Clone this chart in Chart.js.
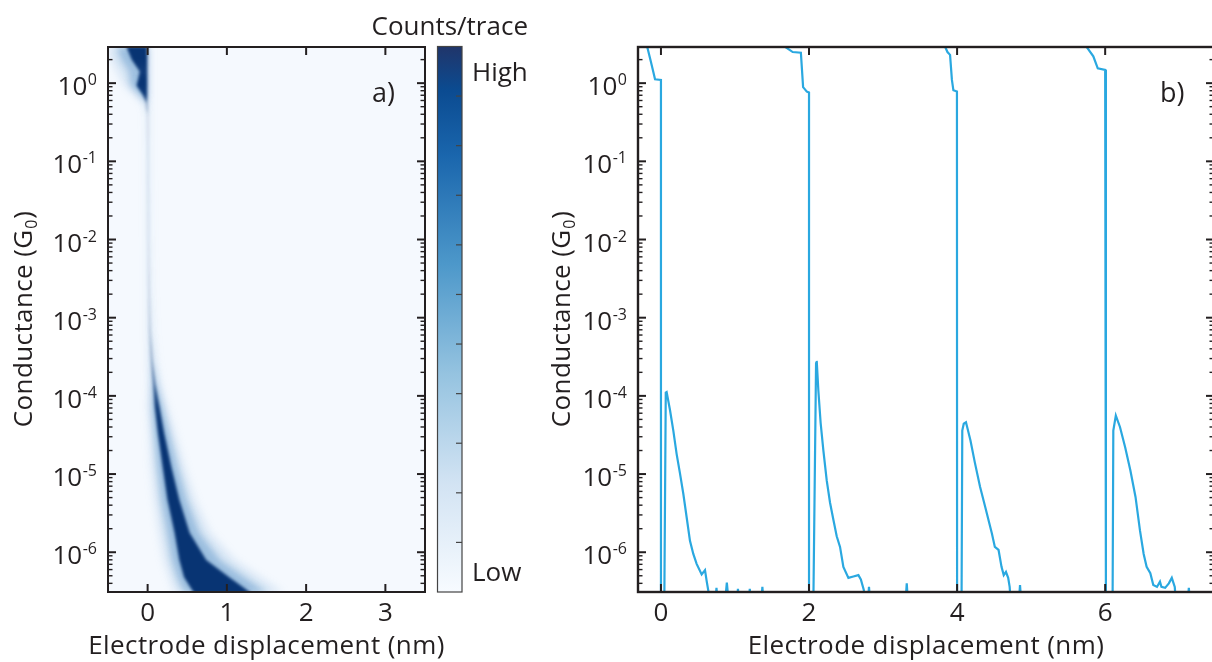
<!DOCTYPE html>
<html>
<head>
<meta charset="utf-8">
<script src="https://cdn.jsdelivr.net/npm/chart.js@4.4.0/dist/chart.umd.min.js"></script>
<style>
  html, body { margin: 0; padding: 0; background: #fff; overflow: hidden; }
  #wrap { position: relative; width: 1212px; height: 662px; overflow: hidden; }
  canvas { position: absolute; top: 0; }
</style>
</head>
<body>
<div id="wrap">
  <canvas id="histo" width="560" height="662" style="left:0"></canvas>
  <canvas id="traces" width="710" height="662" style="left:520px"></canvas>
</div>
<script>
// ---- panel a) : density of conductance vs displacement, read row by row ----
// each row: log10(G) level, outer halo edges, dark core edges (nm), core density 0..1
const bandLogG      = [0.47, 0.30, 0.15, 0.05, -0.03, -0.15, -0.25, -0.40, -1.00, -2.00, -2.70, -3.20, -3.55, -3.84, -4.14, -4.48, -4.91, -5.33, -5.75, -6.10, -6.32, -6.53];
const bandHaloLeft  = [-0.52, -0.46, -0.38, -0.33, -0.29, -0.16, -0.05, -0.03, -0.02, -0.015, -0.01, 0.00, 0.01, 0.02, 0.01, 0.03, 0.05, 0.09, 0.15, 0.21, 0.28, 0.35];
const bandCoreLeft  = [-0.27, -0.20, -0.10, -0.12, -0.14, -0.06, -0.02, -0.01, -0.005, 0.000, 0.005, 0.015, 0.040, 0.070, 0.090, 0.13, 0.19, 0.25, 0.34, 0.40, 0.46, 0.59];
const bandCoreRight = [-0.005, -0.005, -0.005, -0.005, -0.005, -0.005, -0.005, 0.012, 0.016, 0.022, 0.032, 0.045, 0.065, 0.095, 0.15, 0.21, 0.30, 0.40, 0.53, 0.74, 1.03, 1.32];
const bandHaloRight = [0.01, 0.01, 0.01, 0.01, 0.01, 0.01, 0.01, 0.03, 0.035, 0.045, 0.06, 0.08, 0.11, 0.16, 0.24, 0.34, 0.46, 0.59, 0.78, 1.09, 1.41, 1.72];
const bandLevel     = [1.0, 1.0, 0.95, 1.0, 1.0, 0.95, 0.6, 0.14, 0.12, 0.12, 0.14, 0.2, 0.38, 0.72, 0.95, 1.0, 1.0, 1.0, 1.0, 1.0, 1.0, 1.0];

// ---- panel b) : four single traces (G in G0, 2e-7 = below the plotted floor) ----
const trace1X = [-0.20, -0.185, -0.14, -0.11, -0.08, 0.00, 0.00, 0.045, 0.065, 0.077, 0.122, 0.167, 0.212, 0.257, 0.302, 0.347, 0.392, 0.437, 0.482, 0.55, 0.595, 0.617, 0.64, 0.66, 0.73, 0.75, 0.77, 0.86, 0.89, 0.92, 1.02, 1.04, 1.06, 1.18, 1.20, 1.22, 1.35, 1.37, 1.39];
const trace1G = [3.3, 2.9, 1.95, 1.48, 1.12, 1.10, 2e-7, 2e-7, 1.1e-4, 1.12e-4, 6.6e-5, 3.6e-5, 1.8e-5, 1.02e-5, 5.6e-6, 2.8e-6, 1.4e-6, 9.5e-7, 7.1e-7, 5.2e-7, 5.9e-7, 4.3e-7, 3.2e-7, 2e-7, 2e-7, 3.5e-7, 2e-7, 2e-7, 4.1e-7, 2e-7, 2e-7, 3.4e-7, 2e-7, 2e-7, 3.4e-7, 2e-7, 2e-7, 3.6e-7, 2e-7];
const trace2X = [1.66, 1.68, 1.78, 1.89, 1.92, 1.97, 2.00, 2.00, 2.058, 2.095, 2.104, 2.126, 2.157, 2.194, 2.239, 2.284, 2.329, 2.374, 2.419, 2.464, 2.532, 2.599, 2.667, 2.70, 2.74, 2.76, 2.79, 2.81, 2.83, 3.30, 3.32, 3.34];
const trace2G = [3.3, 2.9, 2.5, 2.45, 0.89, 0.78, 0.76, 2e-7, 2e-7, 2.6e-4, 2.8e-4, 1.17e-4, 4.5e-5, 2.0e-5, 8.3e-6, 4.3e-6, 2.6e-6, 1.6e-6, 1.17e-6, 6.5e-7, 4.7e-7, 4.9e-7, 5.1e-7, 4.5e-7, 3.3e-7, 2e-7, 2e-7, 3.6e-7, 2e-7, 2e-7, 4.0e-7, 2e-7];
const trace3X = [3.82, 3.84, 3.87, 3.905, 3.93, 3.95, 3.998, 4.00, 4.06, 4.07, 4.09, 4.12, 4.18, 4.24, 4.31, 4.38, 4.47, 4.51, 4.56, 4.60, 4.63, 4.66, 4.69, 4.71, 4.73, 4.83, 4.85, 4.87];
const trace3G = [3.3, 2.9, 2.5, 2.3, 1.1, 0.81, 0.78, 2e-7, 2e-7, 3.6e-5, 4.4e-5, 4.6e-5, 2.7e-5, 1.4e-5, 6.9e-6, 3.8e-6, 1.74e-6, 1.17e-6, 1.07e-6, 6.5e-7, 5.1e-7, 5.6e-7, 4.7e-7, 3.6e-7, 2e-7, 2e-7, 3.8e-7, 2e-7];
const trace4X = [5.73, 5.75, 5.84, 5.90, 6.00, 6.01, 6.10, 6.11, 6.144, 6.20, 6.27, 6.34, 6.41, 6.47, 6.52, 6.56, 6.61, 6.65, 6.70, 6.74, 6.76, 6.81, 6.86, 6.90, 6.94, 6.96, 7.11, 7.13, 7.15];
const trace4G = [3.3, 2.9, 2.2, 1.55, 1.48, 2e-7, 2e-7, 3.6e-5, 5.6e-5, 4.0e-5, 2.2e-5, 1.12e-5, 5.1e-6, 1.9e-6, 9.5e-7, 6.5e-7, 5.4e-7, 3.8e-7, 3.6e-7, 4.2e-7, 3.6e-7, 3.5e-7, 4.0e-7, 4.7e-7, 3.6e-7, 2e-7, 2e-7, 3.5e-7, 2e-7];

// axes
const gMin = 3.1e-7, gMax = 2.9;
const histoTicks = [0, 1, 2, 3];
const traceTicks = [0, 2, 4, 6];
const decades = [-6, -5, -4, -3, -2, -1, 0];
const colorbarTicks = 11;

const INK = '#231f20';
const FONT = '"Open Sans", "Noto Sans", "DejaVu Sans", sans-serif';
const TRACE_COLOR = '#2aa8e0';

function line(ctx, x0, y0, x1, y1) {
  ctx.beginPath(); ctx.moveTo(x0, y0); ctx.lineTo(x1, y1); ctx.stroke();
}

// frame, inward ticks, tick labels, axis titles and panel tag
function makeFrame(cfg) {
  return {
    id: 'frame',
    afterDraw(chart) {
      const { ctx, chartArea: a, scales: { x, y } } = chart;
      ctx.save();
      ctx.strokeStyle = INK;
      ctx.fillStyle = INK;
      cfg.xTicks.forEach(v => {
        const px = x.getPixelForValue(v);
        ctx.lineWidth = 2;
        line(ctx, px, a.bottom, px, a.bottom - 8);
        line(ctx, px, a.top, px, a.top + 8);
      });
      for (let k = -7; k <= 0; k++) {
        for (let m = 1; m <= 9; m++) {
          const v = m * Math.pow(10, k);
          if (v < gMin || v > gMax) continue;
          const py = y.getPixelForValue(v);
          const len = m === 1 ? 8 : 4.5;
          ctx.lineWidth = m === 1 ? 2 : 1.4;
          line(ctx, a.left, py, a.left + len, py);
          line(ctx, a.right, py, a.right - len, py);
        }
      }
      ctx.lineWidth = cfg.frameWidth;
      ctx.strokeRect(a.left, a.top, a.right - a.left, a.bottom - a.top);

      // y tick labels 10^k
      ctx.textBaseline = 'alphabetic';
      ctx.textAlign = 'right';
      decades.forEach(k => {
        const py = y.getPixelForValue(Math.pow(10, k));
        const xr = a.left - 11;
        ctx.font = `16px ${FONT}`;
        const exp = String(k);
        const ew = ctx.measureText(exp).width;
        ctx.fillText(exp, xr, py + 2);
        ctx.font = `26px ${FONT}`;
        ctx.fillText('10', xr - ew - 0.5, py + 12);
      });
      // x tick labels
      ctx.textAlign = 'center';
      ctx.font = `26px ${FONT}`;
      cfg.xTicks.forEach(v => ctx.fillText(String(v), x.getPixelForValue(v), 621));
      // x title
      ctx.letterSpacing = '0.4px';
      ctx.fillText('Electrode displacement (nm)', (a.left + a.right) / 2, 654);
      // y title with subscript
      ctx.save();
      ctx.translate(cfg.yTitleX, (a.top + a.bottom) / 2);
      ctx.rotate(-Math.PI / 2);
      ctx.textAlign = 'left';
      ctx.font = `26px ${FONT}`;
      const w1 = ctx.measureText('Conductance (G').width;
      const w3 = ctx.measureText(')').width;
      ctx.font = `16px ${FONT}`;
      const w2 = ctx.measureText('0').width;
      const x0 = -(w1 + w2 + w3) / 2;
      ctx.font = `26px ${FONT}`;
      ctx.fillText('Conductance (G', x0, 0);
      ctx.fillText(')', x0 + w1 + w2 + 1, 0);
      ctx.font = `16px ${FONT}`;
      ctx.fillText('0', x0 + w1 + 0.5, 5);
      ctx.restore();
      ctx.letterSpacing = '0px';
      // panel tag
      ctx.textAlign = 'left';
      ctx.font = `27px ${FONT}`;
      ctx.fillText(cfg.tag, cfg.tagX, 102);
      ctx.restore();
    }
  };
}

// density map drawn through the chart scales: one polygon per layer,
// shaded by a vertical gradient that follows the per-row density
const densityPlugin = {
  id: 'density',
  beforeDatasetsDraw(chart) {
    const { ctx, chartArea: a, scales: { x, y } } = chart;
    ctx.save();
    ctx.beginPath();
    ctx.rect(a.left, a.top, a.right - a.left, a.bottom - a.top);
    ctx.clip();
    ctx.fillStyle = '#f5f9fe';
    ctx.fillRect(a.left, a.top, a.right - a.left, a.bottom - a.top);

    const rowsY = bandLogG.map(v => y.getPixelForValue(Math.pow(10, v)));
    const yTop = rowsY[0], yBot = rowsY[rowsY.length - 1];

    const layer = (left, right, rgb, alphaOf, blur) => {
      const g = ctx.createLinearGradient(0, yTop, 0, yBot);
      rowsY.forEach((py, i) => {
        g.addColorStop((py - yTop) / (yBot - yTop), `rgba(${rgb},${alphaOf(bandLevel[i])})`);
      });
      ctx.filter = `blur(${blur}px)`;
      ctx.fillStyle = g;
      ctx.beginPath();
      rowsY.forEach((py, i) => {
        const px = x.getPixelForValue(left(i));
        if (i === 0) ctx.moveTo(px, py); else ctx.lineTo(px, py);
      });
      for (let i = rowsY.length - 1; i >= 0; i--) {
        ctx.lineTo(x.getPixelForValue(right(i)), rowsY[i]);
      }
      ctx.closePath();
      ctx.fill();
    };
    layer(i => bandHaloLeft[i], i => bandHaloRight[i], '90,150,205', l => 0.2 * Math.sqrt(l), 4);
    layer(i => (bandHaloLeft[i] + bandCoreLeft[i]) / 2, i => (bandCoreRight[i] + bandHaloRight[i]) / 2,
      '33,110,180', l => 0.32 * l, 3);
    layer(i => bandCoreLeft[i], i => bandCoreRight[i], '8,52,115', l => l, 1.5);
    ctx.filter = 'none';
    ctx.restore();
  }
};

// colour bar to the right of panel a)
const colorbarPlugin = {
  id: 'colorbar',
  afterDraw(chart) {
    const { ctx, chartArea: a } = chart;
    const left = a.right + 12.5, width = 24.5, top = a.top - 0.5, bottom = a.bottom;
    ctx.save();
    const g = ctx.createLinearGradient(0, bottom, 0, top);
    g.addColorStop(0, '#f7fbff');
    g.addColorStop(0.2, '#d2e3f3');
    g.addColorStop(0.4, '#95c3e0');
    g.addColorStop(0.6, '#4d98ca');
    g.addColorStop(0.8, '#1a66ad');
    g.addColorStop(0.92, '#0b4b91');
    g.addColorStop(1, '#20356a');
    ctx.fillStyle = g;
    ctx.fillRect(left, top, width, bottom - top);
    ctx.strokeStyle = '#444';
    ctx.lineWidth = 1.2;
    ctx.strokeRect(left, top, width, bottom - top);
    for (let k = 1; k < colorbarTicks; k++) {
      const py = top + (bottom - top) * k / colorbarTicks;
      line(ctx, left + width, py, left + width - 6, py);
    }
    ctx.fillStyle = INK;
    ctx.font = `26px ${FONT}`;
    ctx.textAlign = 'center';
    ctx.fillText('Counts/trace', left + width / 2, 35);
    ctx.textAlign = 'left';
    ctx.fillText('High', left + width + 10, 81);
    ctx.fillText('Low', left + width + 10, 581);
    ctx.restore();
  }
};

const logAxis = { type: 'logarithmic', display: false, min: gMin, max: gMax };

new Chart(document.getElementById('histo'), {
  type: 'scatter',
  data: { datasets: [] },
  options: {
    responsive: false,
    animation: false,
    devicePixelRatio: 1,
    layout: { padding: { left: 108, top: 47, right: 135, bottom: 70 } },
    scales: {
      x: { type: 'linear', display: false, min: -0.5, max: 3.5 },
      y: logAxis
    },
    plugins: { legend: { display: false }, tooltip: { enabled: false } }
  },
  plugins: [densityPlugin, colorbarPlugin,
    makeFrame({ xTicks: histoTicks, yTitleX: 32, tag: 'a)', tagX: 372, frameWidth: 2 })]
});

const traces = [[trace1X, trace1G], [trace2X, trace2G], [trace3X, trace3G], [trace4X, trace4G]];

new Chart(document.getElementById('traces'), {
  type: 'scatter',
  data: {
    datasets: traces.map(([xs, gs]) => ({
      data: xs.map((v, i) => ({ x: v, y: gs[i] })),
      showLine: true,
      borderColor: TRACE_COLOR,
      borderWidth: 2.2,
      pointRadius: 0,
      tension: 0
    }))
  },
  options: {
    responsive: false,
    animation: false,
    devicePixelRatio: 1,
    layout: { padding: { left: 118, top: 47, right: 16, bottom: 70 } },
    scales: {
      x: { type: 'linear', display: false, min: -0.31, max: 7.47 },
      y: logAxis
    },
    plugins: { legend: { display: false }, tooltip: { enabled: false } }
  },
  plugins: [makeFrame({ xTicks: traceTicks, yTitleX: 50, tag: 'b)', tagX: 640, frameWidth: 2.4 })]
});
</script>
</body>
</html>
